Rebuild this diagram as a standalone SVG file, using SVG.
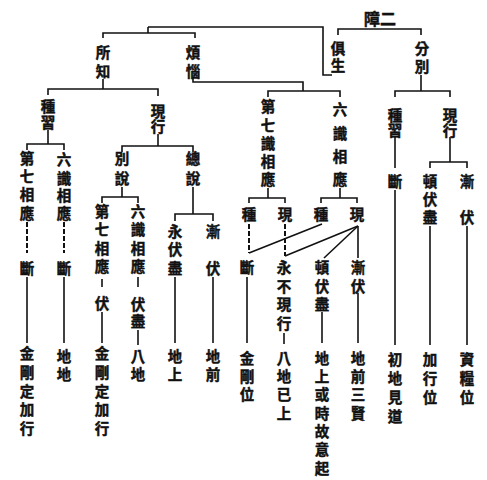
<svg xmlns="http://www.w3.org/2000/svg" width="487" height="480" viewBox="0 0 487 480">
<style>
.t{font-family:"Noto Sans CJK TC","Noto Sans CJK SC",sans-serif;font-size:14.5px;font-weight:700;text-anchor:middle;dominant-baseline:central;fill:#111;stroke:#111;stroke-width:0.45}
.l{fill:none;stroke:#111;stroke-width:1.6}
.d{fill:none;stroke:#111;stroke-width:2;stroke-dasharray:5 2}
</style>
<rect width="487" height="480" fill="#fff"/>
<g id="connectors">
<path class="l" d="M148,27 H323 V75 H332"/>
<path class="l" d="M148,27 V33"/>
<path class="l" d="M103,38 V33 H195 V38"/>
<path class="l" d="M338,35 V29 H421 V35"/>
<path class="l" d="M421,75 V91"/>
<path class="l" d="M395,97 V91 H450 V97"/>
<path class="l" d="M103,79 V89"/>
<path class="l" d="M48,95 V89 H158 V96"/>
<path class="l" d="M193,78 V82 H303 V91"/>
<path class="l" d="M268,97 V91 H340 V97"/>
<path class="l" d="M48,130 V144"/>
<path class="l" d="M27,150 V144 H64 V150"/>
<path class="l" d="M158,134 V146"/>
<path class="l" d="M122,152 V146 H193 V152"/>
<path class="l" d="M122,187 V197"/>
<path class="l" d="M102,203 V197 H138 V203"/>
<path class="l" d="M193,187 V214"/>
<path class="l" d="M175,221 V214 H213 V221"/>
<path class="d" d="M27,222 V253"/>
<path class="l" d="M27,277 V343"/>
<path class="d" d="M64,222 V253"/>
<path class="l" d="M64,277 V343"/>
<path class="l" d="M102,279 V287"/>
<path class="l" d="M102,312 V343"/>
<path class="l" d="M138,277 V287"/>
<path class="l" d="M138,330 V345"/>
<path class="l" d="M175,277 V343"/>
<path class="l" d="M213,277 V343"/>
<path class="l" d="M268,188 V198"/>
<path class="l" d="M249,203 V198 H285 V203"/>
<path class="l" d="M340,188 V198"/>
<path class="l" d="M321,203 V198 H357 V203"/>
<path class="d" d="M249,224 V253"/>
<path class="l" d="M249,253 L322,224"/>
<path class="d" d="M285,224 V256"/>
<path class="l" d="M358,226 L285,256"/>
<path class="l" d="M358,226 L324,258"/>
<path class="l" d="M358,226 V258"/>
<path class="l" d="M247,277 V343"/>
<path class="l" d="M284,333 V344"/>
<path class="l" d="M322,312 V343"/>
<path class="l" d="M358,293 V343"/>
<path class="l" d="M395,136 V168"/>
<path class="l" d="M395,190 V345"/>
<path class="l" d="M450,137 V162"/>
<path class="l" d="M430,168 V162 H467 V168"/>
<path class="l" d="M430,226 V345"/>
<path class="l" d="M467,226 V345"/>
</g>
<g id="n-zhang"><text class="t" x="380" y="18" style="font-size:16px">障二</text></g>
<g id="n-jusheng"><text class="t"><tspan x="338" y="47">俱</tspan><tspan x="338" y="64">生</tspan></text></g>
<g id="n-fenbie"><text class="t"><tspan x="422" y="47">分</tspan><tspan x="422" y="65">別</tspan></text></g>
<g id="n-suozhi"><text class="t"><tspan x="103" y="51">所</tspan><tspan x="103" y="70">知</tspan></text></g>
<g id="n-fannao"><text class="t"><tspan x="193" y="51">煩</tspan><tspan x="193" y="70">惱</tspan></text></g>
<g id="n-zhongxi-l"><text class="t"><tspan x="48" y="105">種</tspan><tspan x="48" y="121">習</tspan></text></g>
<g id="n-xianxing-l"><text class="t"><tspan x="158" y="110">現</tspan><tspan x="158" y="125">行</tspan></text></g>
<g id="n-d7-a"><text class="t"><tspan x="27" y="157">第</tspan><tspan x="27" y="175">七</tspan><tspan x="27" y="193">相</tspan><tspan x="27" y="212">應</tspan></text></g>
<g id="n-d6-a"><text class="t"><tspan x="64" y="158">六</tspan><tspan x="64" y="177">識</tspan><tspan x="64" y="194">相</tspan><tspan x="64" y="212">應</tspan></text></g>
<g id="n-duan-a"><text class="t" x="27" y="267">斷</text></g>
<g id="n-duan-b"><text class="t" x="64" y="267">斷</text></g>
<g id="n-jg-a"><text class="t"><tspan x="27" y="352">金</tspan><tspan x="27" y="371">剛</tspan><tspan x="27" y="390">定</tspan><tspan x="27" y="408">加</tspan><tspan x="27" y="427">行</tspan></text></g>
<g id="n-didi"><text class="t"><tspan x="64" y="355">地</tspan><tspan x="64" y="373">地</tspan></text></g>
<g id="n-bieshuo"><text class="t"><tspan x="122" y="157">別</tspan><tspan x="122" y="177">說</tspan></text></g>
<g id="n-zongshuo"><text class="t"><tspan x="193" y="157">總</tspan><tspan x="193" y="177">說</tspan></text></g>
<g id="n-d7-b"><text class="t"><tspan x="102" y="210">第</tspan><tspan x="102" y="228">七</tspan><tspan x="102" y="247">相</tspan><tspan x="102" y="265">應</tspan></text></g>
<g id="n-fu-b"><text class="t" x="102" y="302">伏</text></g>
<g id="n-jg-b"><text class="t"><tspan x="102" y="352">金</tspan><tspan x="102" y="371">剛</tspan><tspan x="102" y="390">定</tspan><tspan x="102" y="408">加</tspan><tspan x="102" y="427">行</tspan></text></g>
<g id="n-d6-b"><text class="t"><tspan x="138" y="210">六</tspan><tspan x="138" y="228">識</tspan><tspan x="138" y="247">相</tspan><tspan x="138" y="265">應</tspan></text></g>
<g id="n-fujin-b"><text class="t"><tspan x="138" y="303">伏</tspan><tspan x="138" y="320">盡</tspan></text></g>
<g id="n-badi-b"><text class="t"><tspan x="138" y="355">八</tspan><tspan x="138" y="373">地</tspan></text></g>
<g id="n-yongfujin"><text class="t"><tspan x="175" y="230">永</tspan><tspan x="175" y="248">伏</tspan><tspan x="175" y="267">盡</tspan></text></g>
<g id="n-dishang"><text class="t"><tspan x="175" y="355">地</tspan><tspan x="175" y="373">上</tspan></text></g>
<g id="n-jianfu-b"><text class="t"><tspan x="213" y="230">漸</tspan><tspan x="213" y="267">伏</tspan></text></g>
<g id="n-diqian"><text class="t"><tspan x="213" y="355">地</tspan><tspan x="213" y="373">前</tspan></text></g>
<g id="n-d7shi"><text class="t"><tspan x="268" y="105">第</tspan><tspan x="268" y="124">七</tspan><tspan x="268" y="142">識</tspan><tspan x="268" y="160">相</tspan><tspan x="268" y="178">應</tspan></text></g>
<g id="n-d6shi"><text class="t"><tspan x="340" y="108">六</tspan><tspan x="340" y="132">識</tspan><tspan x="340" y="155">相</tspan><tspan x="340" y="178">應</tspan></text></g>
<g id="n-zhong7"><text class="t" x="249" y="213">種</text></g>
<g id="n-xian7"><text class="t" x="285" y="213">現</text></g>
<g id="n-zhong6"><text class="t" x="321" y="213">種</text></g>
<g id="n-xian6"><text class="t" x="357" y="213">現</text></g>
<g id="n-duan-c"><text class="t" x="247" y="266">斷</text></g>
<g id="n-jgw"><text class="t"><tspan x="247" y="357">金</tspan><tspan x="247" y="375">剛</tspan><tspan x="247" y="393">位</tspan></text></g>
<g id="n-yongbu"><text class="t"><tspan x="284" y="266">永</tspan><tspan x="284" y="285">不</tspan><tspan x="284" y="303">現</tspan><tspan x="284" y="322">行</tspan></text></g>
<g id="n-badiyishang"><text class="t"><tspan x="284" y="357">八</tspan><tspan x="284" y="375">地</tspan><tspan x="284" y="393">已</tspan><tspan x="284" y="412">上</tspan></text></g>
<g id="n-dunfujin-c"><text class="t"><tspan x="322" y="266">頓</tspan><tspan x="322" y="285">伏</tspan><tspan x="322" y="303">盡</tspan></text></g>
<g id="n-dishanghuo"><text class="t"><tspan x="322" y="357">地</tspan><tspan x="322" y="375">上</tspan><tspan x="322" y="393">或</tspan><tspan x="322" y="412">時</tspan><tspan x="322" y="430">故</tspan><tspan x="322" y="448">意</tspan><tspan x="322" y="467">起</tspan></text></g>
<g id="n-jianfu-c"><text class="t"><tspan x="358" y="266">漸</tspan><tspan x="358" y="285">伏</tspan></text></g>
<g id="n-diqiansanxian"><text class="t"><tspan x="358" y="357">地</tspan><tspan x="358" y="375">前</tspan><tspan x="358" y="393">三</tspan><tspan x="358" y="412">賢</tspan></text></g>
<g id="n-zhongxi-r"><text class="t"><tspan x="395" y="114">種</tspan><tspan x="395" y="129">習</tspan></text></g>
<g id="n-xianxing-r"><text class="t"><tspan x="450" y="114">現</tspan><tspan x="450" y="129">行</tspan></text></g>
<g id="n-duan-r"><text class="t" x="395" y="180">斷</text></g>
<g id="n-chudi"><text class="t"><tspan x="395" y="358">初</tspan><tspan x="395" y="377">地</tspan><tspan x="395" y="396">見</tspan><tspan x="395" y="415">道</tspan></text></g>
<g id="n-dunfujin-r"><text class="t"><tspan x="430" y="180">頓</tspan><tspan x="430" y="198">伏</tspan><tspan x="430" y="216">盡</tspan></text></g>
<g id="n-jiaxingwei"><text class="t"><tspan x="430" y="358">加</tspan><tspan x="430" y="377">行</tspan><tspan x="430" y="396">位</tspan></text></g>
<g id="n-jianfu-r"><text class="t"><tspan x="467" y="180">漸</tspan><tspan x="467" y="216">伏</tspan></text></g>
<g id="n-ziliangwei"><text class="t"><tspan x="467" y="358">資</tspan><tspan x="467" y="377">糧</tspan><tspan x="467" y="396">位</tspan></text></g>
</svg>
